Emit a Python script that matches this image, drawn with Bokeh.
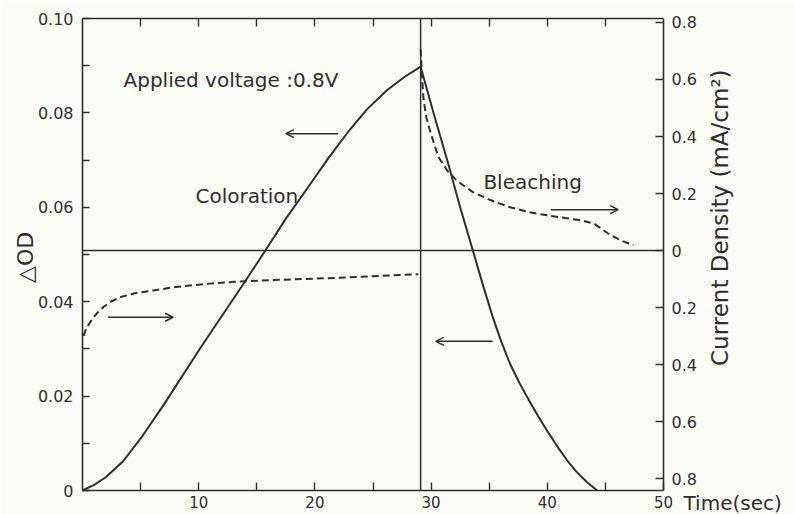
import math
from bokeh.plotting import figure
from bokeh.models import (Range1d, LinearAxis, FixedTicker, CustomJSTickFormatter,
                          Label, Arrow, OpenHead)
from bokeh.embed import file_html
from bokeh.resources import INLINE

# ---------------- data ----------------
# Optical density change during coloration (left axis)
t_color = [0.0, 1.0, 2.0, 3.5, 5.2, 7.0, 10.2, 13.8, 15.7, 17.5, 19.4, 21.1, 22.8,
           24.5, 26.2, 27.7, 29.1]
od_color = [0.0, 0.0012, 0.0028, 0.0062, 0.0117, 0.0182, 0.0304, 0.0436, 0.0507,
            0.0576, 0.0642, 0.0702, 0.0758, 0.0808, 0.0848, 0.0876, 0.0898]

# Optical density change during bleaching (left axis)
t_bleach = [29.1, 30.3, 31.5, 32.5, 33.6, 34.5, 35.3, 36.0, 36.8, 37.6, 38.4, 39.2,
            40.1, 40.9, 41.7, 42.5, 43.4, 44.3]
od_bleach = [0.0898, 0.0792, 0.0690, 0.0600, 0.0508, 0.0432, 0.0368, 0.0318, 0.0268,
             0.0228, 0.0192, 0.0158, 0.0122, 0.0092, 0.0064, 0.0040, 0.0018, 0.0]

# Current density (right axis, mA/cm2); coloration current is drawn below zero
t_cur_color = [0.1, 0.3, 0.7, 1.2, 1.8, 2.5, 3.3, 4.5, 6.1, 8.0, 10.4, 13.0, 16.2,
               19.0, 21.9, 25.5, 28.9]
cur_color = [-0.300, -0.275, -0.249, -0.222, -0.198, -0.178, -0.163, -0.150, -0.140,
             -0.128, -0.118, -0.110, -0.104, -0.100, -0.096, -0.089, -0.083]

# Current density during bleaching (right axis)
t_cur_bleach = [29.1, 29.2, 29.35, 29.6, 29.95, 30.6, 31.4, 32.3, 33.6, 35.1, 36.8,
                38.6, 40.2, 41.7, 43.0, 44.0, 44.7, 45.4, 46.4, 47.4]
cur_bleach = [0.706, 0.62, 0.53, 0.465, 0.415, 0.33, 0.28, 0.242, 0.205, 0.177, 0.152,
              0.133, 0.122, 0.113, 0.105, 0.095, 0.075, 0.055, 0.034, 0.019]

switch_time = 29.1          # polarity reversal (vertical line)

t_lim = [0, 50]
od_lim = [0.0, 0.10]
cur_lim = [-0.842, 0.814]   # current-density values at the bottom / top of the box

x_major = [10, 20, 30, 40, 50]
x_minor = [5, 15, 25, 35, 45]
top_ticks = [5, 10, 15, 20, 25, 30, 35, 40, 45]
od_major = [0.0, 0.02, 0.04, 0.06, 0.08, 0.10]
od_minor = [0.01, 0.03, 0.05, 0.07, 0.09]
cur_ticks = [-0.8, -0.6, -0.4, -0.2, 0.0, 0.2, 0.4, 0.6, 0.8]

# arrows pointing toward the axis each curve belongs to
arrow_x_start = [22.0, 2.2, 40.3, 35.3]
arrow_x_end = [17.5, 7.8, 46.1, 30.4]
arrow_y = [0.0756, 0.0367, 0.0595, 0.0316]

# ---------------- layout ----------------
W, H = 794, 514
BOX_L, BOX_R, BOX_T, BOX_B = 82, 663, 18, 490   # plot box inside the canvas (px)

sx = (BOX_R - BOX_L) / (t_lim[1] - t_lim[0])
sy = (BOX_B - BOX_T) / (od_lim[1] - od_lim[0])
sc = (BOX_B - BOX_T) / (cur_lim[1] - cur_lim[0])

INK = "#2e2e2e"
BG = "#fdfdf7"
FONT = "DejaVu Sans"

p = figure(width=W, height=H,
           x_range=Range1d(t_lim[0] - BOX_L / sx, t_lim[1] + (W - BOX_R) / sx),
           y_range=Range1d(od_lim[0] - (H - BOX_B) / sy, od_lim[1] + BOX_T / sy),
           output_backend="svg", toolbar_location=None,
           x_axis_location=None, y_axis_location=None, min_border=0,
           background_fill_color=BG, border_fill_color=BG, outline_line_color=None)
p.xgrid.visible = False
p.ygrid.visible = False
p.extra_y_ranges = {"cur": Range1d(cur_lim[0] - (H - BOX_B) / sc, cur_lim[1] + BOX_T / sc)}


def style_axis(ax, tick_len=8):
    ax.axis_line_color = INK
    ax.axis_line_width = 1.6
    ax.major_tick_line_color = INK
    ax.minor_tick_line_color = INK
    ax.major_tick_line_width = 1.4
    ax.minor_tick_line_width = 1.4
    ax.major_tick_in = tick_len
    ax.major_tick_out = 0
    ax.minor_tick_in = tick_len
    ax.minor_tick_out = 0
    ax.major_label_text_font = FONT
    ax.major_label_text_color = INK


bottom = LinearAxis(ticker=FixedTicker(ticks=x_major, minor_ticks=x_minor),
                    fixed_location=od_lim[0], bounds=tuple(t_lim))
style_axis(bottom)
bottom.major_label_text_font_size = "15px"
bottom.major_label_standoff = 5
p.add_layout(bottom, "below")

top = LinearAxis(ticker=FixedTicker(ticks=[], minor_ticks=top_ticks),
                 fixed_location=od_lim[1], bounds=tuple(t_lim))
style_axis(top)
p.add_layout(top, "above")

left = LinearAxis(ticker=FixedTicker(ticks=od_major, minor_ticks=od_minor),
                  fixed_location=t_lim[0], bounds=tuple(od_lim),
                  formatter=CustomJSTickFormatter(code="return tick === 0 ? '0' : tick.toFixed(2);"))
style_axis(left, 7)
left.major_label_text_font_size = "16px"
left.major_label_standoff = 9
p.add_layout(left, "left")

right = LinearAxis(y_range_name="cur", ticker=FixedTicker(ticks=cur_ticks, minor_ticks=[]),
                   fixed_location=t_lim[1], bounds=tuple(cur_lim),
                   formatter=CustomJSTickFormatter(
                       code="return Math.abs(tick) < 1e-9 ? '0' : Math.abs(tick).toFixed(1);"))
style_axis(right)
right.major_label_text_font_size = "16px"
right.major_label_standoff = 8
p.add_layout(right, "right")

# reference lines: zero current and polarity reversal
p.segment(x0=[t_lim[0]], y0=[0.0], x1=[t_lim[1]], y1=[0.0], y_range_name="cur",
          line_color=INK, line_width=1.5)
p.segment(x0=[switch_time], y0=[od_lim[0]], x1=[switch_time], y1=[od_lim[1]],
          line_color=INK, line_width=1.5)

# curves
p.line(t_color, od_color, line_color=INK, line_width=2, line_join="round")
p.line(t_bleach, od_bleach, line_color=INK, line_width=2, line_join="round")
p.line(t_cur_color, cur_color, y_range_name="cur", line_color=INK, line_width=2,
       line_dash="7 4", line_join="round")
p.line(t_cur_bleach, cur_bleach, y_range_name="cur", line_color=INK, line_width=2,
       line_dash="7 4", line_join="round")

# arrows
for xs, xe, ya in zip(arrow_x_start, arrow_x_end, arrow_y):
    p.add_layout(Arrow(x_start=xs, y_start=ya, x_end=xe, y_end=ya,
                       line_color=INK, line_width=1.5,
                       end=OpenHead(size=8, line_color=INK, line_width=1.5)))


# texts
def add_text(x, y, text, size, angle=0.0, align="left", baseline="alphabetic"):
    p.add_layout(Label(x=x, y=y, text=text, text_font=FONT, text_font_size=size,
                       text_color=INK, angle=angle, text_align=align,
                       text_baseline=baseline))


add_text(3.53, 0.0869, "Applied voltage :0.8V", "20px")
add_text(9.72, 0.0625, "Coloration", "20px")
add_text(34.5, 0.0653, "Bleaching", "20px")
add_text(51.72, -0.0027, "Time(sec)", "20px")
add_text(-4.9, 0.0494, "△OD", "22px", angle=math.pi / 2, align="center", baseline="middle")
add_text(54.9, 0.0578, "Current Density (mA/cm²)", "23px", angle=math.pi / 2,
         align="center", baseline="middle")

open("out.html", "w").write(file_html(p, INLINE))
